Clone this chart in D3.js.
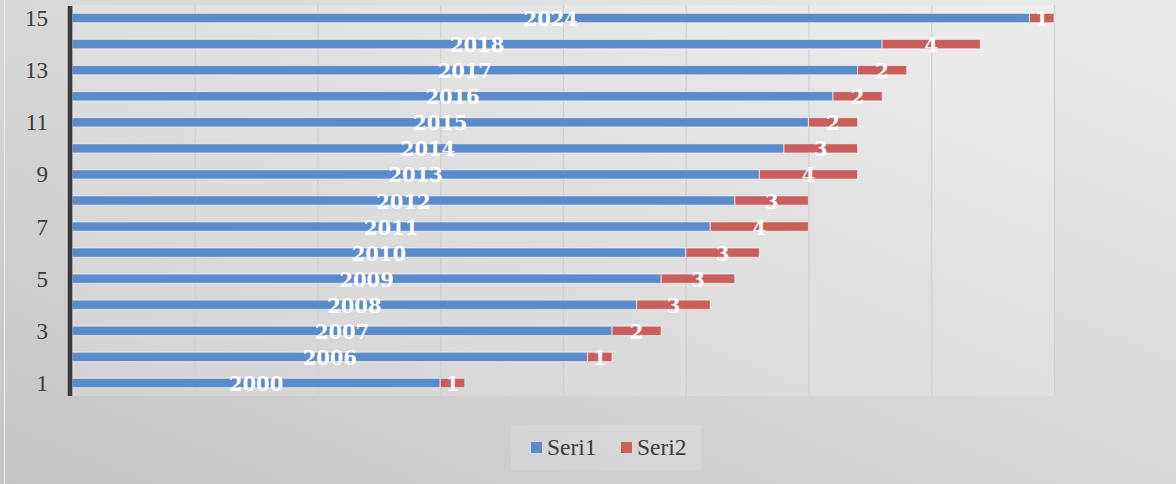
<!DOCTYPE html>
<html>
<head>
<meta charset="utf-8">
<script src="https://cdn.jsdelivr.net/npm/d3@7"></script>
<style>
  body { margin: 0; padding: 0; overflow: hidden; }
  svg { display: block; }
</style>
</head>
<body>
<div class="drawingArea"></div>
<script>
// categories (row numbers), bottom to top
var categories = [1, 2, 3, 4, 5, 6, 7, 8, 9, 10, 11, 12, 13, 14, 15];
var seri1 = [2000, 2006, 2007, 2008, 2009, 2010, 2011, 2012, 2013, 2014, 2015, 2016, 2017, 2018, 2024];
var seri2 = [1, 1, 2, 3, 3, 3, 4, 3, 4, 3, 2, 2, 2, 4, 1];
var yTickLabels = [1, 3, 5, 7, 9, 11, 13, 15];
var xTicks = [1985, 1990, 1995, 2000, 2005, 2010, 2015, 2020, 2025];
var seriesNames = ["Seri1", "Seri2"];

var width = 1176;
var height = 484;
var plotLeft = 72, plotRight = 1054, plotTop = 5, plotBottom = 396;

var blue = "#5b8bc9";
var red = "#c95f5c";

var svg = d3.select(".drawingArea").append("svg:svg")
    .attr("width", width)
    .attr("height", height);

var defs = svg.append("defs");
var bg = defs.append("linearGradient")
    .attr("id", "bgGrad")
    .attr("x1", "100%").attr("y1", "0%")
    .attr("x2", "0%").attr("y2", "100%");
bg.append("stop").attr("offset", "0%").attr("stop-color", "#ebebeb");
bg.append("stop").attr("offset", "100%").attr("stop-color", "#c5c5c5");

var gridGrad = defs.append("linearGradient")
    .attr("id", "gridGrad")
    .attr("gradientUnits", "userSpaceOnUse")
    .attr("x1", 0).attr("y1", plotTop)
    .attr("x2", 0).attr("y2", plotBottom);
gridGrad.append("stop").attr("offset", "0%").attr("stop-color", "#d0d0d0");
gridGrad.append("stop").attr("offset", "60%").attr("stop-color", "#a0a0a0");
gridGrad.append("stop").attr("offset", "100%").attr("stop-color", "#666666");

svg.append("rect")
    .attr("width", width).attr("height", height)
    .attr("fill", "url(#bgGrad)");

// thin light edge on the left
svg.append("line")
    .attr("x1", 4.5).attr("x2", 4.5).attr("y1", 0).attr("y2", height)
    .attr("stroke", "#ececec").attr("stroke-width", 1);

// plot area tint
svg.append("rect")
    .attr("x", plotLeft).attr("y", plotTop)
    .attr("width", plotRight - plotLeft).attr("height", plotBottom - plotTop)
    .attr("fill", "#ffffff").attr("opacity", 0.18);

var x = d3.scaleLinear().domain([1985, 2025]).range([plotLeft, plotRight]);
var y = d3.scaleBand().domain(categories.slice().reverse())
    .range([plotTop, plotBottom]).paddingInner(0.64).paddingOuter(0.32);

// gridlines
svg.append("g")
    .attr("transform", "translate(0," + plotBottom + ")")
    .call(d3.axisBottom(x).tickValues(xTicks).tickSize(-(plotBottom - plotTop)).tickFormat(""))
    .call(function(g) {
        g.select(".domain").remove();
        g.selectAll(".tick line").attr("stroke", "url(#gridGrad)").attr("stroke-width", 1.3);
    });

var rows = categories.map(function(c, i) {
    return { cat: c, s1: seri1[i], s2: seri2[i] };
});

var bars = svg.append("g");

bars.selectAll(".b1").data(rows).enter().append("rect")
    .attr("class", "b1")
    .attr("x", x(1985))
    .attr("y", function(d) { return y(d.cat); })
    .attr("width", function(d) { return x(d.s1) - x(1985); })
    .attr("height", y.bandwidth())
    .attr("fill", blue)
    .attr("stroke", "rgba(255,255,255,0.55)")
    .attr("stroke-width", 1.2);

bars.selectAll(".b2").data(rows).enter().append("rect")
    .attr("class", "b2")
    .attr("x", function(d) { return x(d.s1); })
    .attr("y", function(d) { return y(d.cat); })
    .attr("width", function(d) { return x(d.s1 + d.s2) - x(d.s1); })
    .attr("height", y.bandwidth())
    .attr("fill", red)
    .attr("stroke", "rgba(255,255,255,0.55)")
    .attr("stroke-width", 1.2);

// data labels
var labelFont = "'DejaVu Serif', 'Liberation Serif', serif";
bars.selectAll(".l1").data(rows).enter().append("text")
    .attr("x", function(d) { return (x(1985) + x(d.s1)) / 2; })
    .attr("y", function(d) { return y(d.cat) + y.bandwidth() / 2 + 8; })
    .attr("text-anchor", "middle")
    .attr("font-family", labelFont)
    .attr("font-weight", "bold")
    .attr("font-size", "19.5px")
    .attr("fill", "#ffffff")
    .text(function(d) { return d.s1; });

bars.selectAll(".l2").data(rows).enter().append("text")
    .attr("x", function(d) { return (x(d.s1) + x(d.s1 + d.s2)) / 2; })
    .attr("y", function(d) { return y(d.cat) + y.bandwidth() / 2 + 8; })
    .attr("text-anchor", "middle")
    .attr("font-family", labelFont)
    .attr("font-weight", "bold")
    .attr("font-size", "19.5px")
    .attr("fill", "#ffffff")
    .text(function(d) { return d.s2; });

// y axis
var yAxis = svg.append("g")
    .attr("transform", "translate(" + (plotLeft - 2) + ",0)")
    .call(d3.axisLeft(y).tickValues(yTickLabels).tickSize(0).tickPadding(22));
yAxis.select(".domain").remove();
yAxis.selectAll("text")
    .attr("font-family", "'Liberation Serif', 'DejaVu Serif', serif")
    .attr("font-size", "23px")
    .attr("fill", "#3a3a3a")
    .attr("dy", "0.35em");

svg.append("line")
    .attr("x1", plotLeft - 2).attr("x2", plotLeft - 2)
    .attr("y1", plotTop + 1).attr("y2", plotBottom)
    .attr("stroke", "#3a3a3a").attr("stroke-width", 4.5);

// legend
var legend = svg.append("g");
legend.append("rect")
    .attr("x", 511).attr("y", 425).attr("width", 190).attr("height", 45)
    .attr("fill", "#ffffff").attr("opacity", 0.14);

var legendX = [531, 621];
var legendColors = [blue, red];
seriesNames.forEach(function(name, i) {
    legend.append("rect")
        .attr("x", legendX[i]).attr("y", 442)
        .attr("width", 11).attr("height", 11)
        .attr("fill", legendColors[i]);
    legend.append("text")
        .attr("x", legendX[i] + 16).attr("y", 455)
        .attr("font-family", "'Liberation Serif', 'DejaVu Serif', serif")
        .attr("font-size", "23.5px")
        .attr("fill", "#3a3a3a")
        .text(name);
});
</script>
</body>
</html>
